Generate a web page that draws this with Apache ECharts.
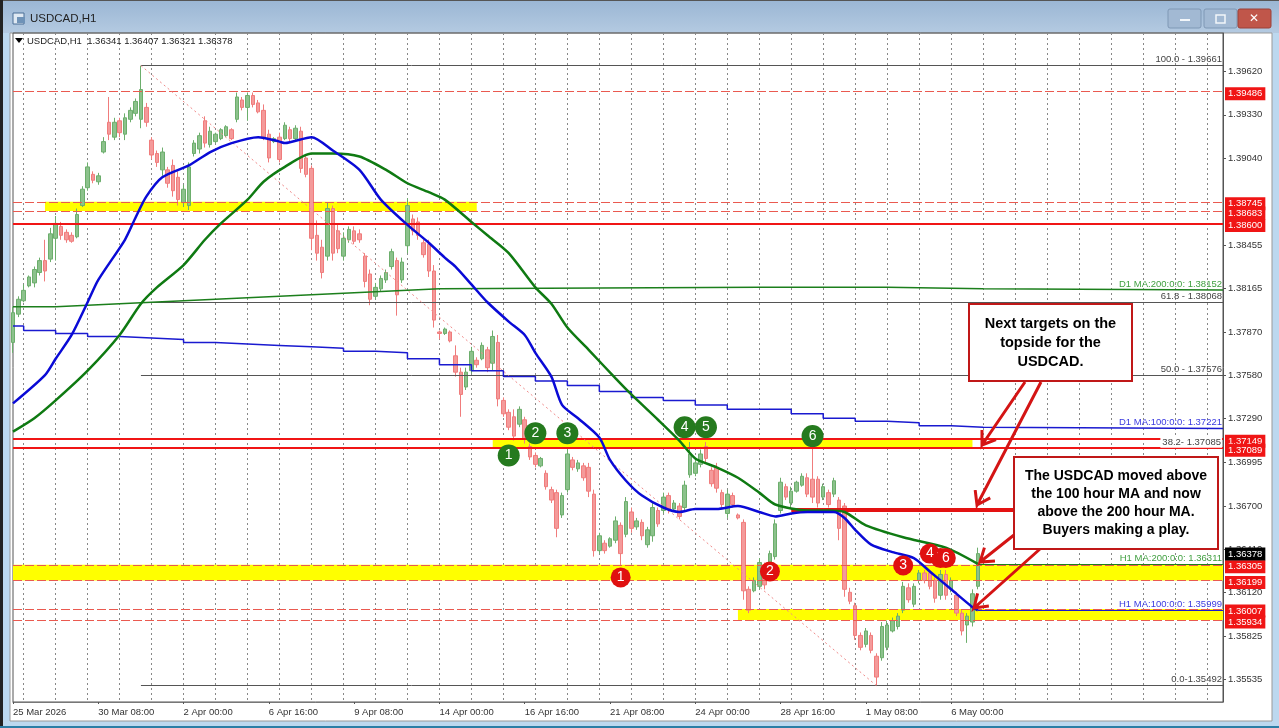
<!DOCTYPE html>
<html>
<head>
<meta charset="utf-8">
<style>
html, body {margin: 0; padding: 0; background: #bcd6ee; overflow: hidden;}
#chart {width: 1279px; height: 728px;}
</style>
<script src="https://cdn.jsdelivr.net/npm/echarts@6/dist/echarts.min.js"></script>
</head>
<body>
<div id="chart"></div>
<script>
// every row is one 4 hour step: open, close, low, high
const candleRows = [
[1.3780,1.3800,1.3773,1.3804],[1.3799,1.3809,1.3797,1.3811],[1.3808,1.3815,1.3807,1.3819],[1.3818,1.3824,1.3817,1.3825],
[1.3820,1.3829,1.3817,1.3831],[1.3827,1.3835,1.3825,1.3837],[1.3835,1.3828,1.3821,1.3849],[1.3836,1.3853,1.3834,1.3857],
[1.3850,1.3860,1.3835,1.3865],[1.3858,1.3852,1.3849,1.3861],[1.3854,1.3849,1.3847,1.3856],[1.3852,1.3848,1.3847,1.3854],
[1.3851,1.3866,1.3850,1.3870],[1.3872,1.3883,1.3871,1.3885],[1.3884,1.3898,1.3882,1.3901],[1.3893,1.3889,1.3887,1.3895],
[1.3888,1.3892,1.3886,1.3894],[1.3908,1.3915,1.3907,1.3918],[1.3928,1.3920,1.3916,1.3945],[1.3918,1.3928,1.3916,1.3931],
[1.3929,1.3921,1.3918,1.3931],[1.3920,1.3931,1.3916,1.3934],[1.3930,1.3936,1.3928,1.3938],[1.3934,1.3942,1.3932,1.3944],
[1.3930,1.3950,1.3924,1.3966],[1.3938,1.3928,1.3925,1.3941],[1.3916,1.3906,1.3903,1.3918],[1.3907,1.3901,1.3898,1.3909],
[1.3896,1.3908,1.3892,1.3911],[1.3896,1.3887,1.3884,1.3898],[1.3899,1.3882,1.3878,1.3903],[1.3891,1.3876,1.3872,1.3895],
[1.3874,1.3883,1.3871,1.3886],[1.3872,1.3898,1.3869,1.3901],[1.3907,1.3914,1.3905,1.3916],[1.3910,1.3919,1.3907,1.3921],
[1.3929,1.3914,1.3911,1.3932],[1.3913,1.3922,1.3911,1.3925],[1.3915,1.3920,1.3914,1.3921],[1.3917,1.3923,1.3916,1.3924],
[1.3919,1.3925,1.3918,1.3926],[1.3923,1.3917,1.3916,1.3924],[1.3930,1.3945,1.3928,1.3948],[1.3943,1.3938,1.3936,1.3945],
[1.3938,1.3946,1.3929,1.3948],[1.3946,1.3940,1.3938,1.3948],[1.3941,1.3935,1.3934,1.3943],[1.3936,1.3918,1.3916,1.3940],
[1.3920,1.3904,1.3901,1.3923],[1.3915,1.3917,1.3914,1.3918],[1.3918,1.3903,1.3901,1.3921],[1.3917,1.3926,1.3916,1.3928],
[1.3923,1.3917,1.3915,1.3925],[1.3917,1.3924,1.3915,1.3926],[1.3922,1.3897,1.3894,1.3925],[1.3904,1.3893,1.3891,1.3906],
[1.3897,1.3850,1.3842,1.3899],[1.3852,1.3840,1.3835,1.3862],[1.3844,1.3827,1.3823,1.3849],[1.3838,1.3870,1.3835,1.3874],
[1.3870,1.3840,1.3835,1.3872],[1.3855,1.3843,1.3840,1.3860],[1.3838,1.3850,1.3835,1.3854],[1.3849,1.3856,1.3847,1.3858],
[1.3855,1.3848,1.3846,1.3858],[1.3853,1.3849,1.3847,1.3856],[1.3838,1.3821,1.3817,1.3840],[1.3826,1.3809,1.3805,1.3829],
[1.3811,1.3817,1.3809,1.3820],[1.3816,1.3823,1.3814,1.3825],[1.3822,1.3827,1.3820,1.3829],[1.3831,1.3841,1.3829,1.3843],
[1.3835,1.3812,1.3798,1.3837],[1.3822,1.3834,1.3820,1.3837],[1.3845,1.3872,1.3840,1.3877],[1.3863,1.3855,1.3852,1.3866],
[1.3861,1.3852,1.3849,1.3864],[1.3847,1.3839,1.3837,1.3849],[1.3846,1.3828,1.3824,1.3849],[1.3828,1.3795,1.3790,1.3832],
[1.3787,1.3786,1.3782,1.3788],[1.3786,1.3789,1.3785,1.3790],[1.3787,1.3781,1.3780,1.3788],[1.3771,1.3760,1.3757,1.3778],
[1.3760,1.3745,1.3730,1.3763],[1.3750,1.3760,1.3748,1.3763],[1.3761,1.3774,1.3759,1.3777],[1.3768,1.3765,1.3763,1.3770],
[1.3769,1.3778,1.3768,1.3780],[1.3775,1.3763,1.3760,1.3777],[1.3766,1.3784,1.3761,1.3788],[1.3780,1.3742,1.3737,1.3785],
[1.3741,1.3732,1.3730,1.3743],[1.3733,1.3723,1.3721,1.3735],[1.3730,1.3717,1.3714,1.3735],[1.3725,1.3735,1.3723,1.3737],
[1.3728,1.3715,1.3712,1.3730],[1.3710,1.3703,1.3701,1.3712],[1.3704,1.3698,1.3696,1.3706],[1.3697,1.3702,1.3696,1.3703],
[1.3692,1.3683,1.3681,1.3694],[1.3681,1.3674,1.3672,1.3683],[1.3679,1.3655,1.3649,1.3681],[1.3664,1.3677,1.3662,1.3679],
[1.3681,1.3705,1.3679,1.3708],[1.3701,1.3696,1.3694,1.3703],[1.3695,1.3699,1.3693,1.3701],[1.3697,1.3689,1.3687,1.3699],
[1.3696,1.3680,1.3676,1.3699],[1.3678,1.3640,1.3636,1.3681],[1.3640,1.3650,1.3638,1.3652],[1.3645,1.3640,1.3638,1.3647],
[1.3643,1.3648,1.3642,1.3649],[1.3647,1.3660,1.3645,1.3663],[1.3657,1.3638,1.3630,1.3659],[1.3651,1.3673,1.3649,1.3676],
[1.3666,1.3655,1.3652,1.3669],[1.3656,1.3660,1.3654,1.3662],[1.3659,1.3650,1.3647,1.3661],[1.3644,1.3654,1.3642,1.3656],
[1.3650,1.3669,1.3646,1.3672],[1.3667,1.3658,1.3656,1.3669],[1.3667,1.3676,1.3665,1.3679],[1.3677,1.3668,1.3665,1.3679],
[1.3668,1.3672,1.3666,1.3674],[1.3670,1.3663,1.3661,1.3672],[1.3669,1.3684,1.3667,1.3687],[1.3691,1.3705,1.3689,1.3713],
[1.3692,1.3699,1.3690,1.3701],[1.3698,1.3705,1.3696,1.3708],[1.3710,1.3702,1.3699,1.3713],[1.3694,1.3685,1.3683,1.3696],
[1.3696,1.3682,1.3679,1.3699],[1.3679,1.3671,1.3669,1.3681],[1.3665,1.3678,1.3662,1.3681],[1.3677,1.3671,1.3669,1.3679],
[1.3664,1.3662,1.3661,1.3665],[1.3659,1.3613,1.3607,1.3661],[1.3614,1.3600,1.3598,1.3616],[1.3613,1.3620,1.3612,1.3622],
[1.3616,1.3632,1.3614,1.3635],[1.3630,1.3617,1.3614,1.3632],[1.3629,1.3638,1.3627,1.3640],[1.3636,1.3658,1.3634,1.3661],
[1.3667,1.3686,1.3665,1.3689],[1.3683,1.3676,1.3674,1.3685],[1.3672,1.3680,1.3669,1.3683],[1.3680,1.3686,1.3679,1.3687],
[1.3684,1.3690,1.3683,1.3692],[1.3689,1.3678,1.3676,1.3692],[1.3688,1.3676,1.3672,1.3710],[1.3688,1.3672,1.3669,1.3690],
[1.3676,1.3683,1.3674,1.3685],[1.3679,1.3671,1.3669,1.3681],[1.3678,1.3687,1.3676,1.3689],[1.3674,1.3655,1.3647,1.3676],
[1.3670,1.3614,1.3609,1.3672],[1.3612,1.3606,1.3604,1.3615],[1.3603,1.3583,1.3580,1.3605],[1.3583,1.3575,1.3573,1.3585],
[1.3577,1.3586,1.3575,1.3588],[1.3583,1.3573,1.3571,1.3585],[1.3569,1.3555,1.3549,1.3571],[1.3568,1.3589,1.3566,1.3592],
[1.3575,1.3590,1.3573,1.3593],[1.3586,1.3593,1.3585,1.3595],[1.3589,1.3596,1.3587,1.3598],[1.3600,1.3616,1.3598,1.3619],
[1.3615,1.3607,1.3605,1.3618],[1.3604,1.3616,1.3602,1.3618],[1.3620,1.3625,1.3618,1.3627],[1.3625,1.3620,1.3618,1.3627],
[1.3625,1.3616,1.3614,1.3627],[1.3620,1.3608,1.3605,1.3622],[1.3610,1.3624,1.3607,1.3627],[1.3624,1.3610,1.3607,1.3627],
[1.3614,1.3620,1.3612,1.3622],[1.3610,1.3598,1.3596,1.3612],[1.3598,1.3586,1.3583,1.3600],[1.3590,1.3596,1.3578,1.3598],
[1.3592,1.3611,1.3589,1.3614],[1.3616,1.3638,1.3614,1.3642]
];

// moving averages as [slot, price]
const hourMa100 = [[0,1.3739],[6,1.3758],[8,1.3769],[11,1.3785],[14,1.3807],[16,1.3822],[21,1.3849],[23,1.3864],[25,1.3878],[28,1.3891],[33,1.3899],[37,1.3908],[41,1.3914],[46,1.3918],[50,1.3915],[51,1.3914],[56,1.3918],[60,1.3909],[65,1.3896],[69,1.3876],[74,1.3859],[78,1.3847],[81,1.3837],[83,1.3831],[86,1.3819],[89,1.3807],[93,1.3794],[96,1.3785],[98,1.3773],[101,1.3757],[103,1.3738],[106,1.3729],[110,1.3716],[112,1.3701],[115,1.3687],[118,1.3677],[122,1.3669],[125,1.3666],[128,1.3668],[132,1.3668],[136,1.3670],[140,1.3666],[143,1.3663],[146,1.3665],[149,1.3666],[154,1.3666],[156,1.3662],[158,1.3654],[161,1.3644],[165,1.3639],[169,1.3635],[172,1.3626],[176,1.3614],[180,1.3602],[181,1.35999]];
const hourMa200 = [[0,1.3720],[4,1.3729],[8,1.3741],[14,1.3761],[20,1.3785],[24,1.3806],[27,1.3817],[32,1.3832],[36,1.3849],[39,1.3860],[44,1.3876],[47,1.3888],[51,1.3898],[56,1.3907],[60,1.3907],[65,1.3905],[70,1.3896],[74,1.3887],[78,1.3881],[81,1.3876],[86,1.3861],[89,1.3852],[93,1.3840],[98,1.3817],[101,1.3806],[104,1.3790],[108,1.3775],[113,1.3756],[116,1.3745],[121,1.3728],[125,1.3714],[128,1.3702],[132,1.3696],[136,1.3689],[140,1.3679],[143,1.3671],[149,1.3667],[153,1.3667],[156,1.3666],[160,1.3657],[167,1.3649],[175,1.3642],[181,1.36311]];
const dayMa200 = [[0,1.3804],[8,1.3805],[14,1.3806],[20,1.3807],[26,1.3808],[32,1.3809],[38,1.3810],[44,1.3811],[50,1.3812],[56,1.3813],[62,1.3814],[68,1.3815],[74,1.3816],[80,1.3817],[140,1.3817],[164,1.3816],[182,1.38152],[227,1.38152]];
const dayMa100 = [[0,1.3791],[2,1.3788],[8,1.3786],[14,1.3784],[20,1.3783],[26,1.3782],[32,1.3780],[38,1.3779],[44,1.3778],[50,1.3777],[56,1.3776],[62,1.3774],[68,1.3773],[74,1.3769],[80,1.3765],[86,1.3761],[92,1.3757],[98,1.3754],[104,1.3751],[110,1.3747],[116,1.3743],[122,1.3741],[128,1.3738],[134,1.3735],[140,1.3735],[146,1.3732],[152,1.3729],[158,1.3727],[164,1.3726],[170,1.3724],[176,1.3723],[182,1.37221],[227,1.37221]];

const priceTicks = [1.39620, 1.39330, 1.39040, 1.38455, 1.38165, 1.37870, 1.37580, 1.37290, 1.36995, 1.36700, 1.36410, 1.36120, 1.35825, 1.35535];
const dateLabels = ['25 Mar 2026', '30 Mar 08:00', '2 Apr 00:00', '6 Apr 16:00', '9 Apr 08:00', '14 Apr 00:00', '16 Apr 16:00', '21 Apr 08:00', '24 Apr 00:00', '28 Apr 16:00', '1 May 08:00', '6 May 00:00'];

const dashedLevels = [1.39486, 1.38745, 1.38683, 1.36305, 1.36199, 1.36007, 1.35934];
const solidLevels = [1.38600, 1.37149, 1.37089];
const lastPrice = 1.36378;
const resistanceLevel = 1.36673;

// [first slot, last slot, upper price, lower price]
const yellowBands = [[6, 87, 1.38745, 1.38683], [90, 180, 1.37149, 1.37089], [0, 227, 1.36305, 1.36199], [136, 227, 1.36007, 1.35934]];

// [first slot, price, text]
const fibLevels = [[24, 1.39661, '100.0 - 1.39661'], [24, 1.38068, '61.8 - 1.38068'], [24, 1.37576, '50.0 - 1.37576'], [24, 1.37085, '38.2- 1.37085'], [24, 1.35492, '0.0-1.35492']];
const fibDiagonal = [[24, 1.39661], [162, 1.35492]];

// [slot, price, number]
const greenMarks = [[93, 1.3704, '1'], [98, 1.3719, '2'], [104, 1.3719, '3'], [126, 1.3723, '4'], [130, 1.3723, '5'], [150, 1.3717, '6']];
const redMarks = [[114, 1.3622, '1'], [142, 1.3626, '2'], [167, 1.3630, '3'], [172, 1.3638, '4'], [174, 1.3635, '5']];
const lastRedMark = [[175, 1.3635, '6']];

const slotCount = 228;
const slots = [];
for (let i = 0; i < slotCount; i++) slots.push(i % 16 === 0 && dateLabels[i / 16] ? dateLabels[i / 16] : '');

const uiFont = '"Liberation Sans", Arial, sans-serif';
const smallSize = 9.5;
const red = '#f01515';
const arrowRed = '#d41414';

function dateSlot(i) {
    return i % 16 === 0 && i / 16 < dateLabels.length;
}

function rayLabel(text, color, extra) {
    return Object.assign({
        show: true,
        position: 'insideEndTop',
        formatter: text,
        color: color,
        fontFamily: uiFont,
        fontSize: smallSize,
        distance: 1
    }, extra || {});
}

function priceTag(price, bg, dy) {
    return {
        show: true,
        position: 'end',
        distance: 2,
        offset: [0, dy],
        formatter: price.toFixed(5),
        color: '#fff',
        backgroundColor: bg,
        padding: [2, 3, 1, 3],
        fontFamily: uiFont,
        fontSize: smallSize
    };
}

function arrow(x1, y1, x2, y2) {
    const a = Math.atan2(y2 - y1, x2 - x1);
    const b = 15;
    return {
        type: 'polyline',
        z: 100,
        shape: {points: [
            [x1, y1], [x2, y2],
            [x2 - b * Math.cos(a - 0.6), y2 - b * Math.sin(a - 0.6)],
            [x2, y2],
            [x2 - b * Math.cos(a + 0.6), y2 - b * Math.sin(a + 0.6)]
        ]},
        style: {stroke: arrowRed, lineWidth: 3, fill: null}
    };
}

function noteBox(x, y, w, h, text, lineHeight, size) {
    return {
        type: 'group',
        z: 100,
        children: [
            {type: 'rect', z: 100, shape: {x: x, y: y, width: w, height: h}, style: {fill: '#fff', stroke: '#c01818', lineWidth: 2}},
            {type: 'text', z: 101, x: x + w / 2, y: y + h / 2, style: {
                text: text, align: 'center', verticalAlign: 'middle', fill: '#000',
                font: 'bold ' + size + 'px ' + uiFont, lineHeight: lineHeight
            }}
        ]
    };
}

const chrome = [
    {type: 'rect', z: -10, shape: {x: 0, y: 0, width: 1279, height: 728}, style: {fill: '#bcd8ef'}},
    {type: 'rect', z: -9, shape: {x: 0, y: 0, width: 1279, height: 33}, style: {fill: {
        type: 'linear', x: 0, y: 0, x2: 0, y2: 1,
        colorStops: [{offset: 0, color: '#9ab6d4'}, {offset: 1, color: '#b4cae1'}]
    }}},
    {type: 'rect', z: -9, shape: {x: 0, y: 0, width: 1279, height: 1}, style: {fill: '#555'}},
    {type: 'rect', z: -9, shape: {x: 0, y: 0, width: 3, height: 728}, style: {fill: '#222'}},
    {type: 'rect', z: -9, shape: {x: 10, y: 33, width: 1262, height: 688}, style: {fill: '#fff', stroke: '#999', lineWidth: 1}},
    {type: 'rect', z: -9, shape: {x: 0, y: 726, width: 1279, height: 2}, style: {fill: '#2b7ea6'}},
    // title bar
    {type: 'rect', z: 1, shape: {x: 13, y: 13, width: 11, height: 11}, style: {fill: '#dfe9f3', stroke: '#4a6f96', lineWidth: 1}},
    {type: 'rect', z: 1, shape: {x: 17, y: 17, width: 8, height: 6}, style: {fill: '#6f93b8'}},
    {type: 'text', z: 1, x: 30, y: 19, style: {text: 'USDCAD,H1', fill: '#222', font: '11.5px ' + uiFont, verticalAlign: 'middle'}},
    {type: 'rect', z: 1, shape: {x: 1168, y: 9, width: 33, height: 19, r: 2}, style: {fill: '#a2b9d3', stroke: '#7f98b5'}},
    {type: 'rect', z: 1, shape: {x: 1180, y: 19, width: 10, height: 2}, style: {fill: '#f2f6fa'}},
    {type: 'rect', z: 1, shape: {x: 1204, y: 9, width: 33, height: 19, r: 2}, style: {fill: '#a2b9d3', stroke: '#7f98b5'}},
    {type: 'rect', z: 1, shape: {x: 1216, y: 15, width: 9, height: 8}, style: {fill: 'none', stroke: '#f2f6fa', lineWidth: 1.5}},
    {type: 'rect', z: 1, shape: {x: 1238, y: 9, width: 33, height: 19, r: 2}, style: {fill: '#c0564a', stroke: '#9b4038'}},
    {type: 'text', z: 2, x: 1254, y: 19, style: {text: '✕', fill: '#fff', font: 'bold 12px "DejaVu Sans"', align: 'center', verticalAlign: 'middle'}},
    // chart heading
    {type: 'polygon', z: 100, shape: {points: [[15, 38], [23, 38], [19, 43]]}, style: {fill: '#000'}},
    {type: 'text', z: 100, x: 27, y: 41, style: {text: 'USDCAD,H1  1.36341 1.36407 1.36321 1.36378', fill: '#222', font: smallSize + 'px ' + uiFont, verticalAlign: 'middle'}}
];

const notes = [
    arrow(1025, 382, 982, 445),
    arrow(1041, 382, 977, 505),
    arrow(1014, 535, 980, 562),
    arrow(1040, 549, 974, 608),
    noteBox(969, 304, 163, 77, 'Next targets on the\ntopside for the\nUSDCAD.', 19, 14.5),
    noteBox(1014, 457, 204, 92, 'The USDCAD moved above\nthe 100 hour MA and now\nabove the 200 hour MA.\nBuyers making a play.', 18, 14)
];

const levelLines = [];
dashedLevels.forEach(function (p) {
    levelLines.push({yAxis: p, lineStyle: {color: '#ea5a50', type: [9, 3], width: 1}, label: priceTag(p, red, 2)});
});
solidLevels.forEach(function (p) {
    levelLines.push({yAxis: p, lineStyle: {color: red, type: 'solid', width: 2}, label: priceTag(p, red, 2)});
});
levelLines.push({yAxis: lastPrice, lineStyle: {color: 'transparent', width: 1}, label: priceTag(lastPrice, '#000', 0)});

const rayLines = [];
fibLevels.forEach(function (f) {
    const hidden = f[1] === 1.37085;
    const extra = hidden ? {backgroundColor: '#fff', padding: [1, 1, 0, 2]} : {};
    rayLines.push([
        {coord: [f[0], f[1]], lineStyle: {color: hidden ? 'transparent' : '#555', type: 'solid', width: 1}, label: rayLabel(f[2], '#444', extra)},
        {coord: [slotCount - 1, f[1]]}
    ]);
});
rayLines.push([
    {coord: fibDiagonal[0], lineStyle: {color: '#f08a8a', type: [2, 3], width: 1}, label: {show: false}},
    {coord: fibDiagonal[1]}
]);
rayLines.push([
    {coord: [181, 1.36311], lineStyle: {color: '#1c7f1c', type: 'solid', width: 1}, label: rayLabel('H1 MA:200:0:0: 1.36311', '#3f9f3f')},
    {coord: [slotCount - 1, 1.36311]}
]);
rayLines.push([
    {coord: [181, 1.35999], lineStyle: {color: '#1a1ad0', type: 'solid', width: 1}, label: rayLabel('H1 MA:100:0:0: 1.35999', '#3a3ae0')},
    {coord: [slotCount - 1, 1.35999]}
]);
rayLines.push([
    {coord: [146, resistanceLevel], lineStyle: {color: '#e41212', type: 'solid', width: 4}, label: {show: false}},
    {coord: [189, resistanceLevel]}
]);
rayLines.push([
    {coord: [200, 1.38152], lineStyle: {color: 'transparent', width: 1}, label: rayLabel('D1 MA:200:0:0: 1.38152', '#3f9f3f')},
    {coord: [slotCount - 1, 1.38152]}
]);
rayLines.push([
    {coord: [200, 1.37221], lineStyle: {color: 'transparent', width: 1}, label: rayLabel('D1 MA:100:0:0: 1.37221', '#3a3ae0')},
    {coord: [slotCount - 1, 1.37221]}
]);

function maSeries(name, data, color, width, step) {
    return {
        name: name,
        type: 'line',
        data: data,
        step: step ? 'end' : false,
        smooth: step ? false : 0.25,
        showSymbol: false,
        z: 5,
        silent: true,
        lineStyle: {color: color, width: width}
    };
}

function markSeries(name, data, color, size, z) {
    return {
        name: name,
        type: 'scatter',
        data: data,
        symbol: 'circle',
        symbolSize: size,
        z: z,
        silent: true,
        itemStyle: {color: color, opacity: 1},
        label: {
            show: true,
            position: 'inside',
            formatter: function (p) { return p.data[2]; },
            color: '#fff',
            fontFamily: uiFont,
            fontSize: 14
        }
    };
}

const chart = echarts.init(document.getElementById('chart'), null, {renderer: 'canvas'});
chart.setOption({
    animation: false,
    backgroundColor: 'transparent',
    graphic: {elements: chrome.concat(notes)},
    grid: {show: true, left: 13, right: 56, top: 33, bottom: 26, borderColor: '#555', borderWidth: 1, backgroundColor: 'transparent'},
    xAxis: {
        type: 'category',
        data: slots,
        boundaryGap: false,
        axisLine: {lineStyle: {color: '#777', width: 1}},
        axisTick: {show: true, length: 2, interval: dateSlot, lineStyle: {color: '#555'}},
        axisLabel: {
            interval: dateSlot,
            align: 'left',
            margin: 5,
            color: '#333',
            fontFamily: uiFont,
            fontSize: smallSize
        },
        splitLine: {show: true, interval: function (i) { return i % 6 === 2; }, lineStyle: {color: '#888', type: [2, 3], width: 1}}
    },
    yAxis: {
        type: 'value',
        position: 'right',
        min: 1.353824,
        max: 1.398802,
        scale: true,
        splitLine: {show: false},
        axisLine: {show: true, lineStyle: {color: '#555'}},
        axisTick: {show: true, length: 3, customValues: priceTicks, lineStyle: {color: '#555'}},
        axisLabel: {
            customValues: priceTicks,
            margin: 5,
            color: '#333',
            fontFamily: uiFont,
            fontSize: smallSize,
            formatter: function (v) { return v.toFixed(5); }
        }
    },
    series: [
        {
            name: 'bands',
            type: 'line',
            data: [],
            z: 1,
            markArea: {
                silent: true,
                itemStyle: {color: '#ffff00', opacity: 1},
                data: yellowBands.map(function (b) {
                    return [{coord: [b[0], b[2]]}, {coord: [b[1], b[3]]}];
                })
            }
        },
        {
            name: 'USDCAD,H1',
            type: 'candlestick',
            data: candleRows,
            barWidth: 4,
            z: 3,
            silent: true,
            itemStyle: {color: '#8cc28c', color0: '#f49a9a', borderColor: '#6cae6c', borderColor0: '#f07c7c', borderWidth: 1}
        },
        {
            name: 'levels',
            type: 'line',
            data: [],
            z: 4,
            markLine: {silent: true, symbol: 'none', animation: false, precision: 5, data: levelLines}
        },
        {
            name: 'rays',
            type: 'line',
            data: [],
            z: 6,
            markLine: {silent: true, symbol: 'none', animation: false, precision: 5, data: rayLines}
        },
        maSeries('D1 MA 200', dayMa200, '#1c7f1c', 1.5, true),
        maSeries('D1 MA 100', dayMa100, '#1a1ad0', 1.5, true),
        maSeries('H1 MA 200', hourMa200, '#0f7a12', 2.5, false),
        maSeries('H1 MA 100', hourMa100, '#0a0ad6', 2.5, false),
        markSeries('green marks', greenMarks, '#257a1e', 22, 8),
        markSeries('red marks', redMarks, '#e01010', 20, 8),
        markSeries('last red mark', lastRedMark, '#e01010', 20, 9)
    ]
});
</script>
</body>
</html>
